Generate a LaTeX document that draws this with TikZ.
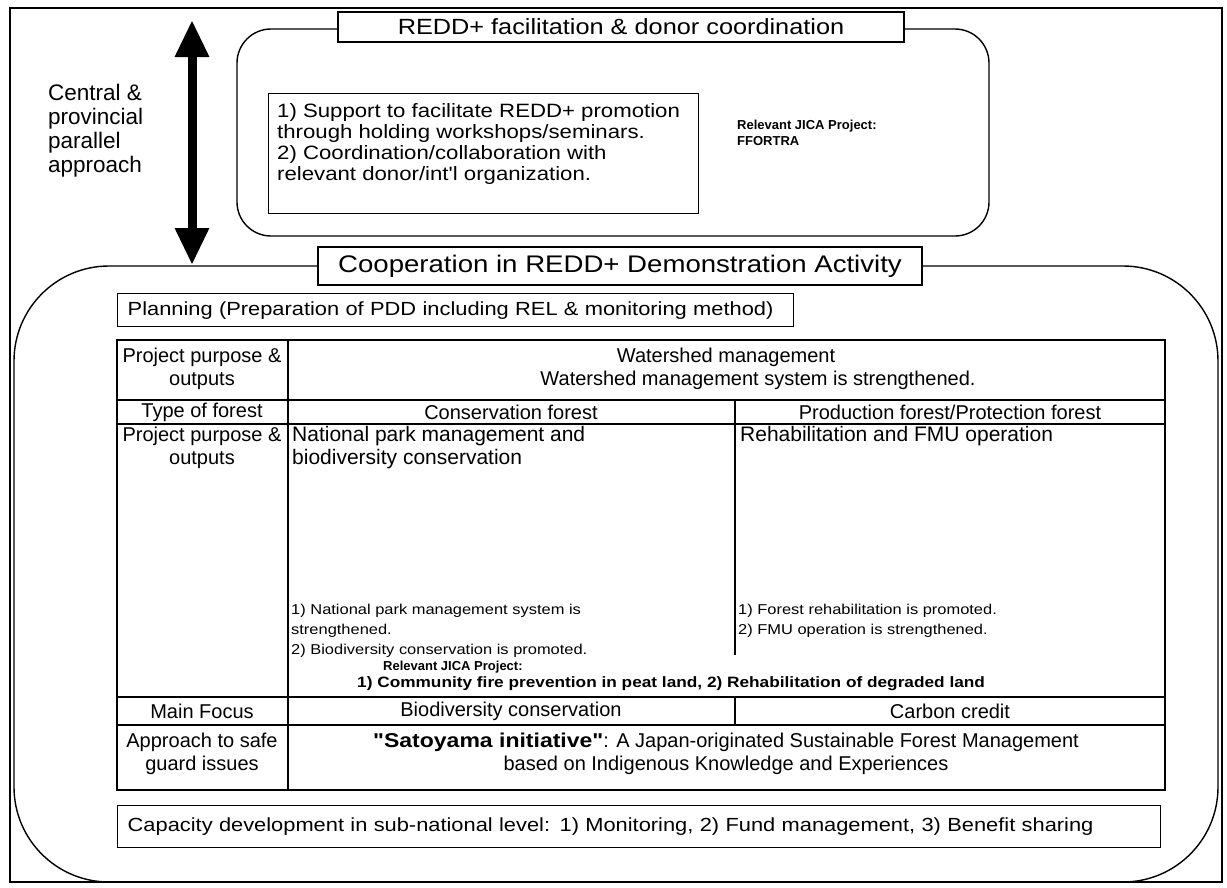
\documentclass[tikz,border=0pt]{standalone}
\usepackage{fontspec}
\setmainfont{Liberation Sans}[Ligatures=TeXOff]
\newfontfamily\widefont{Liberation Sans}[FakeStretch=1.15, Ligatures=TeXOff]
\usetikzlibrary{arrows.meta}
\newcommand{\fscentral}{\fontsize{22.5}{24}\selectfont}
\newcommand{\fstitleA}{\widefont\fontsize{22}{26}\selectfont}
\newcommand{\fstitleB}{\widefont\fontsize{24}{28}\selectfont}
\newcommand{\fsinner}{\widefont\fontsize{19.3}{21}\selectfont}
\newcommand{\fsband}{\widefont\fontsize{19}{22}\selectfont}
\newcommand{\fstable}{\fontsize{20}{23}\selectfont}
\newcommand{\fscell}{\fontsize{21}{23}\selectfont}
\newcommand{\fssmall}{\widefont\fontsize{14.3}{20}\selectfont}
\newcommand{\fsbold}{\fontsize{13}{15.5}\selectfont\bfseries}
\newcommand{\fsboldwide}{\widefont\fontsize{15}{16}\selectfont\bfseries}
\begin{document}
\begin{tikzpicture}[x=1pt,y=-1pt,
  frame/.style={draw, line width=1.4pt},
  gridline/.style={draw, line width=1.5pt},
  titlebox/.style={draw, fill=white, line width=1.4pt, inner sep=0pt},
  plainbox/.style={draw, line width=1.4pt, inner sep=0pt},
  txt/.style={inner sep=0pt, font=\fstable},
  txtc/.style={inner sep=0pt, font=\fstable, align=center}]
\useasboundingbox (0,0) rectangle (1227,887);

% outer frame
\draw[frame] (10,8) rectangle (1222,882);

% side label
\node[inner sep=0pt, anchor=west, align=left, font=\fscentral] (side) at (48,131)
  {Central \&\\provincial\\parallel\\approach};

% REDD+ facilitation block
\draw[frame, rounded corners=34pt] (237,29) rectangle (989,236);
\node[titlebox, minimum width=566pt, minimum height=30pt, font=\fstitleA] (t1) at (621,27)
  {REDD+ facilitation \& donor coordination};
\node[plainbox, anchor=north west, minimum width=430pt, minimum height=120pt] (supbox) at (268,93) {};
\node[inner sep=0pt, anchor=west, align=left, font=\fsinner] (suptext) at (277,144)
  {1) Support to facilitate REDD+ promotion\\through holding workshops/seminars.\\2) Coordination/collaboration with\\relevant donor/int'l organization.};
\node[inner sep=0pt, anchor=west, align=left, font=\fsbold] (jica1) at (737,133)
  {Relevant JICA Project:\\FFORTRA};

% demonstration block
\draw[frame, rounded corners=95pt] (14,266) rectangle (1218,882);
\node[titlebox, minimum width=604pt, minimum height=38pt, font=\fstitleB] (t2) at (620,266)
  {Cooperation in REDD+ Demonstration Activity};

% two-way arrow between the blocks
\coordinate (arrtop) at (192,20);
\coordinate (arrbot) at (192,265);
\draw[line width=9pt, {Triangle[width=32pt,length=37pt]}-{Triangle[width=32pt,length=37pt]}] (arrtop) -- (arrbot);

% planning
\node[plainbox, anchor=north west, text width=656pt, inner xsep=10pt, minimum height=33pt, align=left, font=\fsband] (plan) at (117,293)
  {Planning (Preparation of PDD including REL \& monitoring method)};

% table grid
\draw[gridline] (117,340) rectangle (1165,790);
\draw[gridline] (288,340) -- (288,790);
\draw[gridline] (117,400) -- (1165,400);
\draw[gridline] (117,424) -- (1165,424);
\draw[gridline] (117,697) -- (1165,697);
\draw[gridline] (117,725) -- (1165,725);
\draw[gridline] (735,400) -- (735,655);
\draw[gridline] (735,697) -- (735,725);

% row labels
\node[txtc] (r1) at (202,369) {Project purpose \&\\outputs};
\node[txtc] (r2) at (202,412) {Type of forest};
\node[txtc] (r3) at (202,448) {Project purpose \&\\outputs};
\node[txtc] (r4) at (202,711) {Main Focus};
\node[txtc] (r5) at (202,754) {Approach to safe\\guard issues};

% row 1
\node[txt] (w1) at (726,357) {Watershed management};
\node[txt] (w2) at (758,380) {Watershed management system is strengthened.};
% row 2
\node[txt] (f1) at (511,412) {Conservation forest};
\node[txt] (f2) at (950,412) {Production forest/Protection forest};
% row 3
\node[inner sep=0pt, anchor=west, align=left, font=\fscell] (p1) at (292,448) {National park management and\\biodiversity conservation};
\node[inner sep=0pt, anchor=west, align=left, font=\fscell] (p2) at (740,436) {Rehabilitation and FMU operation};
\node[inner sep=0pt, anchor=west, align=left, font=\fssmall] (o1) at (291,631)
  {1) National park management system is\\strengthened.\\2) Biodiversity conservation is promoted.};
\node[inner sep=0pt, anchor=west, align=left, font=\fssmall] (o2) at (738,621)
  {1) Forest rehabilitation is promoted.\\2) FMU operation is strengthened.};
\node[inner sep=0pt, anchor=west, font=\fsbold] (jica2) at (383,667) {Relevant JICA Project:};
\node[inner sep=0pt, anchor=west, font=\fsboldwide] (jica3) at (357,684)
  {1) Community fire prevention in peat land, 2) Rehabilitation of degraded land};
% row 4
\node[txt] (m1) at (511,711) {Biodiversity conservation};
\node[txt] (m2) at (950,711) {Carbon credit};
% row 5
\node[txtc] (s1) at (726,754)
  {{\widefont\bfseries "Satoyama initiative"}: A Japan-originated Sustainable Forest Management\\based on Indigenous Knowledge and Experiences};

% capacity development
\node[plainbox, anchor=north west, text width=1023pt, inner xsep=10pt, minimum height=42pt, align=left, font=\fsband] (cap) at (117,805)
  {Capacity development in sub-national level: 1) Monitoring, 2) Fund management, 3) Benefit sharing};
\end{tikzpicture}
\end{document}
